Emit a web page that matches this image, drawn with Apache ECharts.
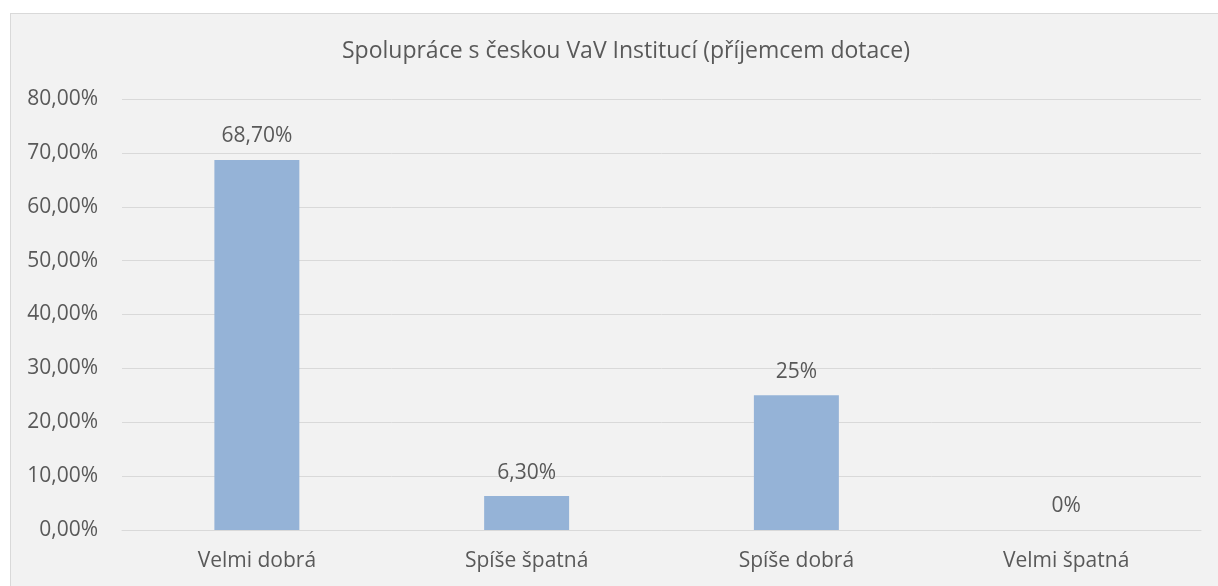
<!DOCTYPE html>
<html>
<head>
<meta charset="UTF-8">
<script src="https://cdn.jsdelivr.net/npm/echarts@6/dist/echarts.min.js"></script>
<style>
body { margin:0; padding:0; width:1218px; height:586px; background:#fff; overflow:hidden; position:relative; }
#frame { position:absolute; left:10px; top:13px; width:1240px; height:600px; background:#f2f2f2; border:1px solid #d9d9d9; }
#chart { position:absolute; left:0; top:0; width:1218px; height:586px; }
</style>
</head>
<body>
<div id="frame"></div>
<div id="chart"></div>
<script>
// hodnoty z grafu
var categories = ['Velmi dobrá', 'Spíše špatná', 'Spíše dobrá', 'Velmi špatná'];
var values = [68.7, 6.3, 25, 0];
var valueLabels = ['68,70%', '6,30%', '25%', '0%'];
var yTicks = { min: 0, max: 80, interval: 10 };

var font = '"Open Sans", sans-serif';
var textColor = '#595959';

var c = echarts.init(document.getElementById('chart'));
c.setOption({
  backgroundColor: 'transparent',
  animation: false,
  title: {
    text: 'Spolupráce s českou VaV Institucí (příjemcem dotace)',
    left: 621,
    top: 35,
    textAlign: 'center',
    textStyle: { color: textColor, fontFamily: font, fontSize: 23, fontWeight: 'normal' }
  },
  grid: { left: 122, right: 17, top: 99, bottom: 56 },
  xAxis: {
    type: 'category',
    data: categories,
    axisLine: { show: true, lineStyle: { color: '#d9d9d9', width: 1 } },
    axisTick: { show: false },
    axisLabel: { color: textColor, fontFamily: font, fontSize: 21, margin: 21 }
  },
  yAxis: {
    type: 'value',
    min: yTicks.min,
    max: yTicks.max,
    interval: yTicks.interval,
    axisLine: { show: false },
    axisTick: { show: false },
    splitLine: { lineStyle: { color: '#d9d9d9', width: 1 } },
    axisLabel: {
      color: textColor, fontFamily: font, fontSize: 21, margin: 24,
      formatter: function (v) { return v.toFixed(2).replace('.', ',') + '%'; }
    }
  },
  series: [{
    type: 'bar',
    data: values,
    barWidth: '31.5%',
    itemStyle: { color: '#95b3d7' },
    label: {
      show: true,
      position: 'top',
      distance: 13,
      color: textColor,
      fontFamily: font,
      fontSize: 21,
      formatter: function (p) { return valueLabels[p.dataIndex]; }
    }
  }]
});
</script>
</body>
</html>
